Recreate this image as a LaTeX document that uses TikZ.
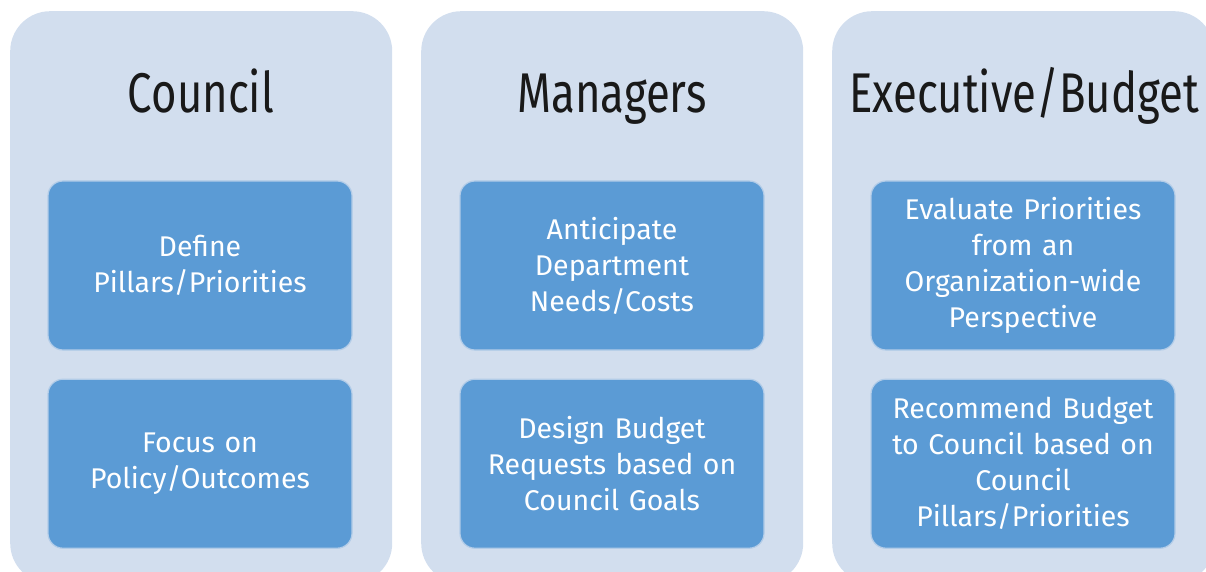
\documentclass[tikz,border=0pt]{standalone}
\usepackage{fontspec}
\setmainfont{Fira Sans}
\newfontfamily\titlefont{Fira Sans}[FakeStretch=0.78]
\usetikzlibrary{positioning}

\definecolor{panelblue}{RGB}{210,222,238}
\definecolor{boxblue}{RGB}{91,155,213}
\definecolor{boxrim}{RGB}{178,204,232}

\begin{document}
\begin{tikzpicture}
    [
    x = 1pt, y = -1pt,
    node distance          = 28pt,
    panel/.style           = {fill=panelblue, rounded corners=40pt, minimum width=382pt,
                              minimum height=572pt, anchor=north west, inner sep=0pt},
    title/.style           = {font=\titlefont\fontsize{56}{60}\selectfont, text=black!90, anchor=base},
    task/.style            = {fill=boxblue, draw=boxrim, line width=1.2pt, rounded corners=15pt,
                              minimum width=304pt, minimum height=169pt, text width=300pt,
                              align=center, text=white, inner sep=0pt,
                              font=\fontsize{28.5}{36}\selectfont}
    ]
    \useasboundingbox (0,0) rectangle (1206,572);
    % panels
    \node [panel] (council)   at (10,11)  {};
    \node [panel] (managers)  at (421,11) {};
    \node [panel] (executive) at (832,11) {};
    % titles
    \node [title] (council title)   at (201,113)  {Council};
    \node [title] (managers title)  at (612,113)  {Managers};
    \node [title] (executive title) at (1024,113) {Executive/Budget};
    % tasks
    \node [task] (define) at (200,265.5) {Define\\Pillars/Priorities};
    \node [task, below=of define] (focus) {Focus on\\Policy/Outcomes};
    \node [task] (anticipate) at (612,265.5) {Anticipate\\Department\\Needs/Costs};
    \node [task, below=of anticipate] (design) {Design Budget\\Requests based on\\Council Goals};
    \node [task] (evaluate) at (1023,265.5) {Evaluate Priorities\\from an\\Organization-wide\\Perspective};
    \node [task, below=of evaluate] (recommend) {Recommend Budget\\to Council based on\\Council\\Pillars/Priorities};
\end{tikzpicture}
\end{document}
